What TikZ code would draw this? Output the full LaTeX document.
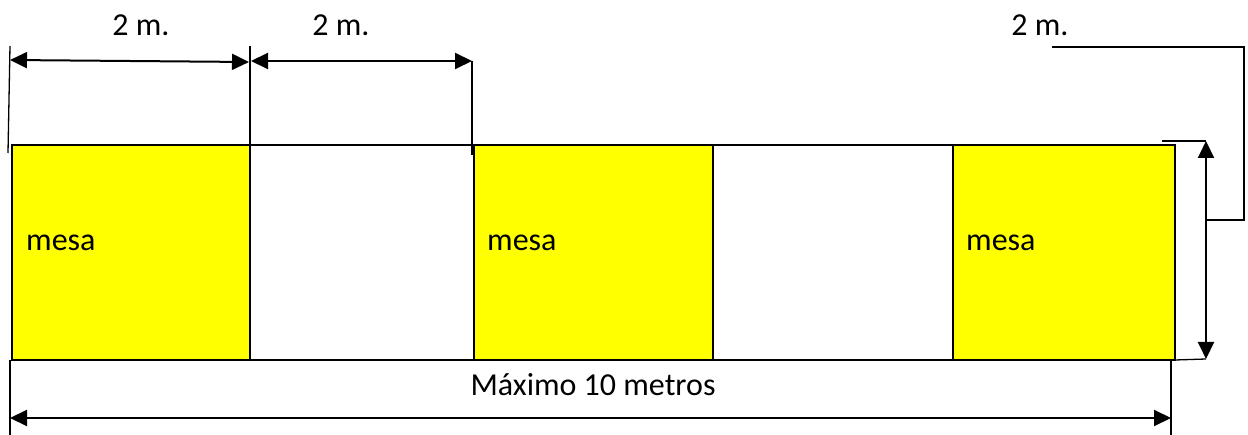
\documentclass[tikz,border=0pt]{standalone}
\usepackage{fontspec}
\setmainfont{Carlito}
\usetikzlibrary{arrows.meta}
\definecolor{mesayellow}{RGB}{255,255,0}
\tikzset{
  mesabox/.style={draw=black, line width=2.2pt, fill=mesayellow, minimum width=#1, minimum height=215pt, anchor=north west, inner sep=0pt, outer sep=0pt},
  gapbox/.style={draw=black, line width=2.2pt, fill=white, minimum width=#1, minimum height=215pt, anchor=north west, inner sep=0pt, outer sep=0pt},
  dimarrow/.style={line width=2pt, {Triangle[length=17pt,width=16pt]}-{Triangle[length=17pt,width=16pt]}},
  extline/.style={line width=1.3pt},
  lbl/.style={font=\fontsize{32}{38}\selectfont, inner sep=0pt}
}
\begin{document}
\begin{tikzpicture}[x=1pt,y=-1pt]
\useasboundingbox (0,0) rectangle (1248,435);
% boxes
\node[mesabox=238pt] (m1) at (12,145) {};
\node[gapbox=224pt] (g1) at (250,145) {};
\node[mesabox=239pt] (m2) at (474,145) {};
\node[gapbox=240pt] (g2) at (713,145) {};
\node[mesabox=222pt] (m3) at (953,145) {};
\node[lbl, anchor=west] (t1) at (26,243) {mesa};
\node[lbl, anchor=west] (t2) at (487,243) {mesa};
\node[lbl, anchor=west] (t3) at (966,243) {mesa};
% top dimensions
\coordinate (e1a) at (10,46); \coordinate (e1b) at (8,153);
\coordinate (e2a) at (250,46);
\coordinate (e3a) at (472,61); \coordinate (e3b) at (472,155);
\draw[extline] (e1a) -- (e1b);
\draw[extline] (e2a) -- (g1.north west);
\draw[extline] (e3a) -- (e3b);
\coordinate (a1l) at (10,60); \coordinate (a1r) at (249,62);
\coordinate (a2l) at (251,61); \coordinate (a2r) at (472,61);
\draw[dimarrow] (a1l) -- (a1r);
\draw[dimarrow] (a2l) -- (a2r);
\node[lbl] (d1) at (141,25) {2 m.};
\node[lbl] (d2) at (341,25) {2 m.};
\node[lbl] (d3) at (1040,25) {2 m.};
% right dimension
\coordinate (r1) at (1052,47); \coordinate (r2) at (1244,47);
\coordinate (r3) at (1244,220); \coordinate (r4) at (1206,220);
\draw[extline] (r1) -- (r2) -- (r3) -- (r4);
\coordinate (vt) at (1206,141); \coordinate (vb) at (1206,359);
\coordinate (vtx) at (1162,141);
\draw[extline] (vtx) -- (vt);
\draw[extline] (m3.south east) -- (vb);
\draw[dimarrow] (vt) -- (vb);
% bottom dimension
\coordinate (bl1) at (10,360); \coordinate (bl2) at (10,435);
\coordinate (br1) at (1171,360); \coordinate (br2) at (1171,435);
\draw[extline] (bl1) -- (bl2);
\draw[extline] (br1) -- (br2);
\coordinate (bal) at (10,418); \coordinate (bar) at (1171,418);
\draw[dimarrow] (bal) -- (bar);
\node[lbl] (bt) at (593,385) {Máximo 10 metros};
\end{tikzpicture}
\end{document}
